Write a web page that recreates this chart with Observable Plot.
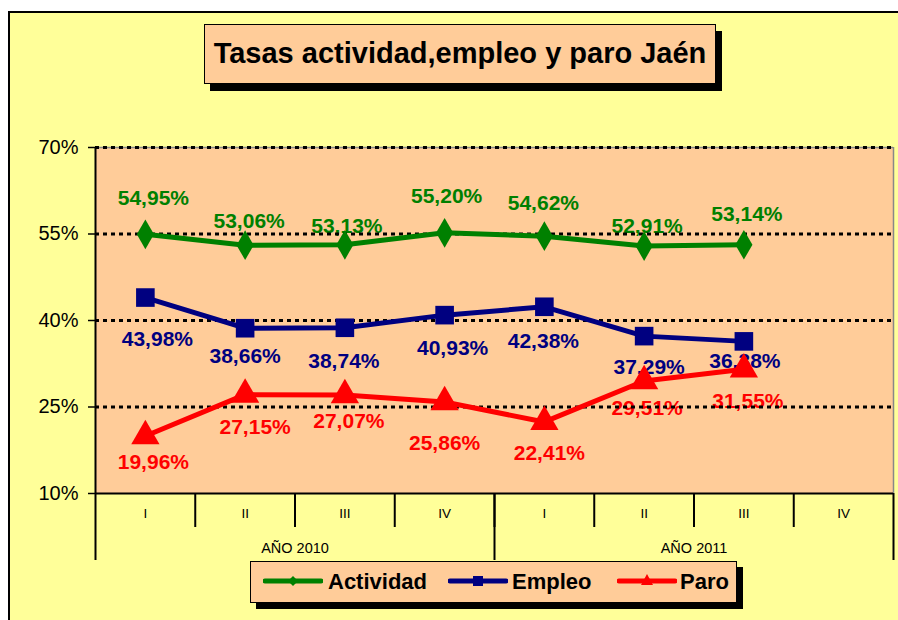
<!DOCTYPE html>
<html>
<head>
<meta charset="utf-8">
<script src="https://cdn.jsdelivr.net/npm/d3@7"></script>
<script src="https://cdn.jsdelivr.net/npm/@observablehq/plot@0.6"></script>
<style>
  body { margin: 0; background: #fff; font-family: "Liberation Sans", Arial, sans-serif; }
  #wrap { position: relative; width: 898px; height: 620px; overflow: hidden; background: #fff; }
  #frame { position: absolute; left: 8px; top: 11px; width: 900px; height: 620px; border: 2.5px solid #000; background: #FFFF99; box-sizing: border-box; }
  #chart { position: absolute; left: 0; top: 0; }
  #title { position: absolute; left: 204px; top: 24px; width: 512px; height: 60px; box-sizing: border-box;
           border: 1.5px solid #000; background: #FFCC99; box-shadow: 6px 7px 0 #000;
           font-weight: bold; font-size: 29px; line-height: 57px; text-align: center; color: #000; white-space: nowrap; }
  #legend { position: absolute; left: 250px; top: 561px; width: 487px; height: 42px; box-sizing: border-box;
            border: 1.5px solid #000; background: #FFCC99; box-shadow: 6px 6px 0 #000; }
  .sw { position: absolute; top: 9px; }
  .lt { position: absolute; top: 7px; font-weight: bold; font-size: 22px; line-height: 26px; color: #000; }
</style>
</head>
<body>
<div id="wrap">
  <div id="frame"></div>
  <div id="chart"></div>
  <div id="title">Tasas actividad,empleo y paro Jaén</div>
  <div id="legend"></div>
</div>
<script>
// ---- data ----
const quarters = ["I", "II", "III", "IV", "I", "II", "III", "IV"];
const years = ["AÑO 2010", "AÑO 2011"];
const actividad = [54.95, 53.06, 53.13, 55.20, 54.62, 52.91, 53.14, null];
const empleo    = [43.98, 38.66, 38.74, 40.93, 42.38, 37.29, 36.38, null];
const paro      = [19.96, 27.15, 27.07, 25.86, 22.41, 29.51, 31.55, null];
const yTicks = [10, 25, 40, 55, 70];
const seriesNames = ["Actividad", "Empleo", "Paro"];

// ---- styling (label offsets in pixels, as placed in the original) ----
const styles = {
  Actividad: { values: actividad, color: "#008000", symbol: "diamond", r: 9,
               labelDx: [8, 4, 2, 2, -1, 3, 3], labelDy: [-36, -24, -19, -37, -33, -20, -30] },
  Empleo:    { values: empleo, color: "#000080", symbol: "square", r: 10.5,
               labelDx: [12, 0, -1, 8, -1, 5, 1], labelDy: [42, 28, 33, 33, 34, 31, 20] },
  Paro:      { values: paro, color: "#FF0000", symbol: "triangle", r: 10.5,
               labelDx: [8, 10, 4, 0, 5, 3, 4], labelDy: [26, 33, 26, 41, 31, 27, 32] }
};

const fmt = v => v.toFixed(2).replace(".", ",") + "%";
const nQ = quarters.length;
const center = d => d.i + 0.5;
const rowsOf = s => s.values.map((v, i) => ({ i, v })).filter(d => d.v != null);

const marks = [
  Plot.frame({ fill: "#FFCC99", stroke: null })
];

// data labels (drawn beneath gridlines and lines, as in the original)
for (const name of seriesNames) {
  const s = styles[name];
  rowsOf(s).forEach(d => {
    marks.push(Plot.text([d], { x: center, y: "v", text: r => fmt(r.v), fill: s.color,
      dx: s.labelDx[d.i], dy: s.labelDy[d.i], fontSize: 21, fontWeight: "bold" }));
  });
}

marks.push(
  Plot.ruleY([70], { stroke: "#888", strokeWidth: 1.5 }),
  Plot.ruleX([nQ], { stroke: "#888", strokeWidth: 1.5 }),
  Plot.ruleY(yTicks.filter(t => t > 10), { stroke: "#000", strokeWidth: 3, strokeDasharray: "4,4" }),
  Plot.ruleX([0], { stroke: "#000", strokeWidth: 2 }),
  Plot.ruleY([10], { stroke: "#000", strokeWidth: 2 }),
  Plot.axisY(yTicks, { tickSize: 7, tickPadding: 10, fontSize: 20, tickFormat: d => d + "%", label: null, strokeWidth: 1.5 }),
  Plot.axisX(d3.range(1, nQ), { tickSize: 34, tickFormat: () => "", label: null, strokeWidth: 2 }),
  Plot.axisX([0, nQ / 2, nQ], { tickSize: 67, tickFormat: () => "", label: null, strokeWidth: 2 }),
  Plot.axisX(d3.range(nQ).map(i => i + 0.5), { tickSize: 0, tickPadding: 15, fontSize: 13.5, tickFormat: d => quarters[Math.floor(d)], label: null }),
  Plot.axisX(years.map((y, k) => (k + 0.5) * nQ / 2), { tickSize: 0, tickPadding: 49, fontSize: 14.5, tickFormat: d => years[Math.floor(d / (nQ / 2))], label: null })
);

for (const name of seriesNames) {
  const s = styles[name];
  const rows = rowsOf(s);
  marks.push(Plot.line(rows, { x: center, y: "v", stroke: s.color, strokeWidth: 5 }));
  marks.push(Plot.dot(rows, { x: center, y: "v", symbol: s.symbol, r: s.r, fill: s.color, stroke: null }));
}

const chart = Plot.plot({
  width: 898,
  height: 620,
  marginLeft: 95,
  marginRight: 5,
  marginTop: 147,
  marginBottom: 127,
  x: { type: "linear", domain: [0, nQ], label: null },
  y: { type: "linear", domain: [10, 70], label: null },
  style: { background: "transparent", fontFamily: "'Liberation Sans', Arial, sans-serif", color: "#000", overflow: "visible" },
  marks
});
document.getElementById("chart").appendChild(chart);

// ---- legend ----
const legend = document.getElementById("legend");
const legendLayout = [
  { name: "Actividad", sx: 12, tx: 77 },
  { name: "Empleo", sx: 197, tx: 261 },
  { name: "Paro", sx: 366, tx: 429 }
];
const markerSvg = {
  diamond: c => `<polygon points="30,5 35,10 30,15 25,10" fill="${c}"/>`,
  square: c => `<rect x="25" y="5" width="10" height="10" fill="${c}"/>`,
  triangle: c => `<polygon points="30,3 36,14 24,14" fill="${c}"/>`
};
for (const it of legendLayout) {
  const s = styles[it.name];
  const sw = document.createElement("div");
  sw.className = "sw";
  sw.style.left = it.sx + "px";
  sw.innerHTML = `<svg width="60" height="20"><line x1="2" y1="10" x2="58" y2="10" stroke="${s.color}" stroke-width="5" stroke-linecap="round"/>${markerSvg[s.symbol](s.color)}</svg>`;
  legend.appendChild(sw);
  const t = document.createElement("div");
  t.className = "lt";
  t.style.left = it.tx + "px";
  t.textContent = it.name;
  legend.appendChild(t);
}
</script>
</body>
</html>
